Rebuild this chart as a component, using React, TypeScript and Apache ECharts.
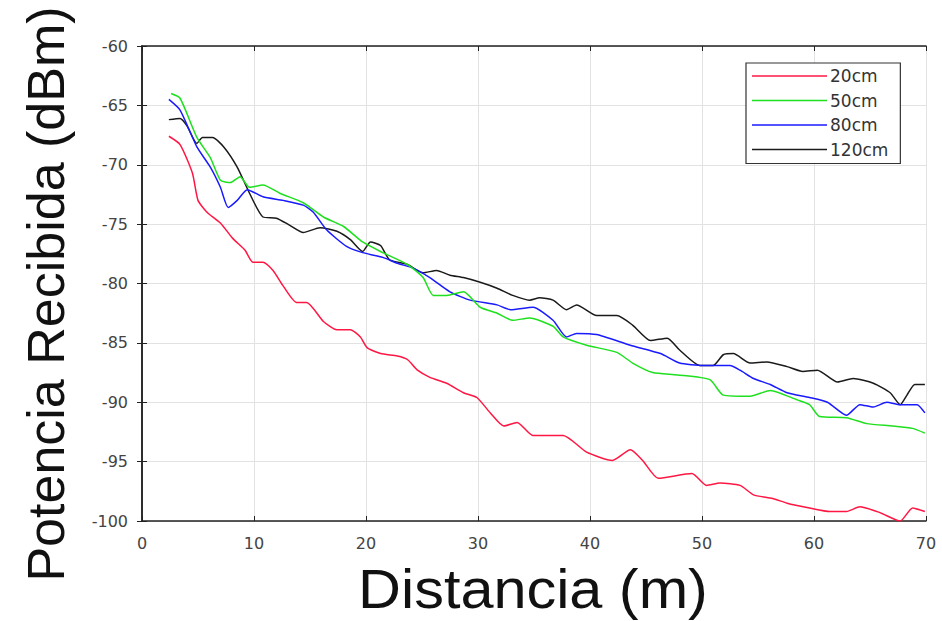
import React, { useEffect, useRef } from "react";
import * as echarts from "echarts";

const seriesNames = ["20cm", "50cm", "80cm", "120cm"];
const seriesColors = ["#ff1744", "#1ee01e", "#1a1aff", "#1a1a1a"];

const x20 = [2.4,3.4,4.5,5.0,5.8,7.0,8.1,9.2,9.9,10.8,11.7,12.6,13.8,14.7,16.2,17.4,18.6,19.5,20.1,21.3,22.8,23.7,24.6,25.7,27.2,28.7,29.9,31.1,32.3,33.5,34.9,37.6,39.7,42.0,43.6,44.7,46.1,49.1,50.4,51.6,53.4,54.6,56.3,57.6,59.6,61.4,62.9,64.1,65.9,67.7,68.8,69.9];
const y20 = [-67.6,-68.3,-70.7,-73.0,-74.0,-74.9,-76.2,-77.2,-78.2,-78.2,-78.9,-80.2,-81.6,-81.6,-83.2,-83.9,-83.9,-84.5,-85.4,-85.9,-86.1,-86.4,-87.3,-87.9,-88.4,-89.2,-89.6,-90.9,-92.0,-91.7,-92.8,-92.8,-94.2,-94.9,-94.0,-94.9,-96.4,-96.0,-97.0,-96.8,-97.0,-97.8,-98.1,-98.5,-98.9,-99.2,-99.2,-98.8,-99.3,-100.0,-98.9,-99.2];

const x50 = [2.6,3.4,4.9,6.1,7.0,7.9,8.75,9.6,10.8,12.3,14.4,16.2,18.0,19.7,21.5,23.7,25.1,26.0,27.2,28.7,30.2,31.7,33.1,34.6,36.7,37.6,39.7,42.4,43.8,45.6,47.8,50.7,51.9,54.3,56.1,58.5,59.6,60.5,62.9,64.7,67.0,68.8,69.9];
const y50 = [-64.0,-64.4,-67.7,-69.4,-71.3,-71.5,-71.0,-71.9,-71.7,-72.4,-73.2,-74.4,-75.2,-76.5,-77.4,-78.4,-79.5,-81.0,-81.0,-80.7,-82.0,-82.5,-83.1,-82.9,-83.6,-84.5,-85.2,-85.8,-86.7,-87.5,-87.7,-88.1,-89.4,-89.5,-89.0,-89.8,-90.2,-91.2,-91.3,-91.8,-92.0,-92.2,-92.6];

const x80 = [2.4,3.4,4.9,6.1,7.0,7.7,8.5,9.4,10.8,12.6,14.4,15.3,16.5,18.3,19.7,21.5,22.8,24.2,25.7,27.5,29.3,31.7,32.9,34.9,36.7,37.9,38.8,40.6,43.6,46.3,48.0,50.1,52.5,53.4,54.6,56.1,57.6,59.6,61.2,62.9,64.1,65.3,66.5,67.7,69.2,69.9];
const y80 = [-64.5,-65.4,-68.5,-70.2,-71.9,-73.6,-73.0,-72.1,-72.7,-73.0,-73.4,-74.0,-75.5,-76.9,-77.4,-77.8,-78.3,-78.7,-79.5,-80.7,-81.4,-81.8,-82.2,-82.0,-83.1,-84.5,-84.2,-84.3,-85.2,-85.9,-86.7,-86.9,-86.9,-87.3,-88.0,-88.5,-89.2,-89.6,-90.0,-91.1,-90.2,-90.4,-90.0,-90.2,-90.2,-90.9];

const x120 = [2.4,3.4,4.0,4.9,5.4,6.3,7.3,8.5,9.6,10.8,12.0,13.2,14.4,15.9,17.4,18.6,19.7,20.4,21.3,22.1,23.7,25.1,26.3,27.5,28.7,30.2,31.7,33.1,34.6,35.5,36.7,37.9,38.8,40.6,42.4,43.8,45.4,46.9,48.0,49.8,51.0,51.9,52.8,54.3,55.8,57.6,59.0,60.3,62.1,63.5,65.3,66.8,67.7,68.3,69.0,69.9];
const y120 = [-66.2,-66.1,-66.7,-68.2,-67.7,-67.7,-68.5,-70.2,-72.4,-74.4,-74.5,-75.1,-75.7,-75.3,-75.6,-76.3,-77.3,-76.5,-76.8,-78.0,-78.4,-79.1,-78.9,-79.3,-79.5,-79.9,-80.4,-81.0,-81.4,-81.2,-81.4,-82.2,-81.8,-82.7,-82.7,-83.5,-84.8,-84.6,-85.6,-86.9,-86.9,-86.0,-85.9,-86.7,-86.6,-87.0,-87.4,-87.3,-88.3,-88.0,-88.4,-89.2,-90.2,-89.4,-88.5,-88.5];

const xsAll = [x20, x50, x80, x120];
const ysAll = [y20, y50, y80, y120];

const xTitle = "Distancia (m)";
const yTitle = "Potencia Recibida (dBm)";

export default function App() {
  const ref = useRef<HTMLDivElement>(null);
  useEffect(() => {
    if (!ref.current) return;
    const chart = echarts.init(ref.current, undefined, { renderer: "svg" });
    const labelStyle = { fontFamily: "DejaVu Sans", fontSize: 16, color: "#444" };
    const axisCommon = {
      axisLine: { show: true, lineStyle: { color: "#222", width: 1.5 } },
      axisTick: { show: true, inside: true, length: 5, lineStyle: { color: "#222", width: 1 } },
    };
    chart.setOption({
      animation: false,
      backgroundColor: "#fff",
      grid: { left: 142, right: 16, top: 46, bottom: 100, containLabel: false },
      legend: {
        orient: "vertical",
        left: 746,
        top: 63,
        data: seriesNames,
        icon: "rect",
        itemWidth: 75,
        itemHeight: 1.6,
        itemGap: 7.5,
        padding: [4.5, 12, 5.5, 6],
        borderColor: "#333",
        borderWidth: 1.2,
        backgroundColor: "#fff",
        textStyle: { fontFamily: "DejaVu Sans", fontSize: 17, color: "#333", padding: [0, 0, 0, -2] },
      },
      xAxis: [
        {
          type: "value", min: 0, max: 70, interval: 10, position: "bottom",
          ...axisCommon,
          axisLabel: { ...labelStyle, margin: 14 },
          splitLine: { show: true, lineStyle: { color: "#e2e2e2", width: 1 } },
        },
        {
          type: "value", min: 0, max: 70, interval: 10, position: "top",
          ...axisCommon,
          axisLabel: { show: false },
          splitLine: { show: false },
        },
      ],
      yAxis: [
        {
          type: "value", min: -100, max: -60, interval: 5, position: "left",
          ...axisCommon,
          axisLabel: { ...labelStyle, margin: 14 },
          splitLine: { show: true, lineStyle: { color: "#e2e2e2", width: 1 } },
        },
        {
          type: "value", min: -100, max: -60, interval: 5, position: "right",
          ...axisCommon,
          axisLabel: { show: false },
          splitLine: { show: false },
        },
      ],
      graphic: [
        {
          type: "text",
          x: 533,
          y: 589,
          scaleX: 1.08,
          style: {
            text: xTitle,
            fontFamily: "Liberation Sans",
            fontSize: 55,
            fill: "#111",
            textAlign: "center",
            textVerticalAlign: "middle",
          },
        },
        {
          type: "text",
          x: 46,
          y: 294,
          rotation: Math.PI / 2,
          style: {
            text: yTitle,
            fontFamily: "Liberation Sans",
            fontSize: 52,
            fill: "#111",
            textAlign: "center",
            textVerticalAlign: "middle",
          },
        },
      ],
      series: seriesNames.map((name, i) => ({
        name,
        type: "line",
        xAxisIndex: 0,
        yAxisIndex: 0,
        symbol: "none",
        showSymbol: false,
        smooth: 0.2,
        lineStyle: { color: seriesColors[i], width: 1.5 },
        itemStyle: { color: seriesColors[i] },
        data: xsAll[i].map((x, j) => [x, ysAll[i][j]]),
        z: 3 + (3 - i),
      })),
    });
    return () => chart.dispose();
  }, []);
  return (
    <div
      ref={ref}
      style={{ position: "absolute", left: 0, top: 0, width: 942, height: 621 }}
    />
  );
}
